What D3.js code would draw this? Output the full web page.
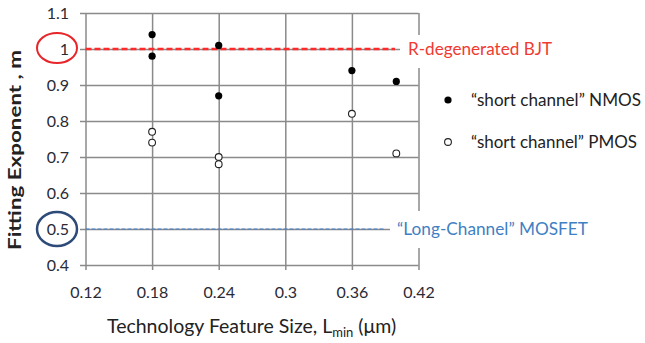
<!DOCTYPE html>
<html><head><meta charset="utf-8">
<script src="https://cdn.jsdelivr.net/npm/d3@7"></script>
<style>body{margin:0;background:#fff}svg{display:block}text{font-family:Lato,"Open Sans",sans-serif}</style>
</head><body><svg id="c" width="645" height="343"></svg>
<script>
const xTicks = [0.12, 0.18, 0.24, 0.3, 0.36, 0.42];
const xTickLabels = ["0.12", "0.18", "0.24", "0.3", "0.36", "0.42"];
const yTicks = [0.4, 0.5, 0.6, 0.7, 0.8, 0.9, 1.0, 1.1];
const yTickLabels = ["0.4", "0.5", "0.6", "0.7", "0.8", "0.9", "1", "1.1"];
const nmosX = [0.18, 0.18, 0.24, 0.24, 0.36, 0.40];
const nmosY = [1.04, 0.98, 1.01, 0.87, 0.94, 0.91];
const pmosX = [0.18, 0.18, 0.24, 0.24, 0.36, 0.40];
const pmosY = [0.77, 0.74, 0.70, 0.68, 0.82, 0.71];
const refValues = [1.0, 0.5];
const refLabels = ["R-degenerated BJT", "\u201cLong-Channel\u201d MOSFET"];
const legendLabels = ["\u201cshort channel\u201d NMOS", "\u201cshort channel\u201d PMOS"];

const svg = d3.select("#c");
const x = d3.scaleLinear().domain([0.12, 0.42]).range([85.5, 418.5]);
const y = d3.scaleLinear().domain([0.4, 1.1]).range([265, 13]);
const grid = "#8a8a8a";

// horizontal gridlines
const ya = d3.axisLeft(y).tickValues(yTicks).tickSize(-(418.5 - 80)).tickFormat((d,i)=>yTickLabels[i]);
const gy = svg.append("g").attr("transform","translate(80,0)").call(ya);
gy.select(".domain").remove();
gy.selectAll("line").attr("stroke",grid).attr("stroke-width",1.5);
gy.selectAll("text").attr("font-size",16).attr("fill","#2a2a35").attr("x",-11).attr("dy","0.36em");

// vertical gridlines
const xa = d3.axisBottom(x).tickValues(xTicks).tickSize(-(270-13)).tickFormat((d,i)=>xTickLabels[i]);
const gx = svg.append("g").attr("transform","translate(0,270)").call(xa);
gx.select(".domain").remove();
gx.selectAll("line").attr("stroke",grid).attr("stroke-width",1.5);
gx.selectAll("text").attr("font-size",16).attr("fill","#2a2a35").attr("y",22.5).attr("dy","0.36em");

// reference lines
svg.append("line").attr("x1",x(0.12)).attr("x2",395).attr("y1",y(refValues[0])).attr("y2",y(refValues[0]))
  .attr("stroke","#ff2a2a").attr("stroke-width",2.5).attr("stroke-dasharray","6,3");
svg.append("line").attr("x1",x(0.12)).attr("x2",384).attr("y1",y(refValues[1])).attr("y2",y(refValues[1]))
  .attr("stroke","#3a7dcc").attr("stroke-width",1).attr("stroke-dasharray","4,2");

// label backgrounds (cover right border)
svg.append("rect").attr("x",400).attr("y",35).attr("width",245).attr("height",33).attr("fill","#fff");
svg.append("rect").attr("x",390).attr("y",211).attr("width",255).attr("height",37).attr("fill","#fff");
svg.append("text").attr("x",408).attr("y",y(refValues[0])).attr("dy","0.36em").attr("font-size",16.5)
  .attr("fill","#f03a32").attr("textLength",144).attr("lengthAdjust","spacingAndGlyphs").text(refLabels[0]);
svg.append("text").attr("x",397).attr("y",y(refValues[1])).attr("dy","0.36em").attr("font-size",16.5)
  .attr("fill","#3f7fc4").attr("textLength",191).attr("lengthAdjust","spacingAndGlyphs").text(refLabels[1]);

// ellipses
svg.append("ellipse").attr("cx",57).attr("cy",y(1.0)-1).attr("rx",20).attr("ry",15)
  .attr("fill","none").attr("stroke","#e8262a").attr("stroke-width",2);
svg.append("ellipse").attr("cx",57).attr("cy",y(0.5)).attr("rx",20).attr("ry",17)
  .attr("fill","none").attr("stroke","#2d4a78").attr("stroke-width",2.5);

// points
svg.append("g").selectAll("circle").data(nmosX.map((d,i)=>[d,nmosY[i]])).join("circle")
  .attr("cx",d=>x(d[0])).attr("cy",d=>y(d[1])).attr("r",3.6).attr("fill","#000");
svg.append("g").selectAll("circle").data(pmosX.map((d,i)=>[d,pmosY[i]])).join("circle")
  .attr("cx",d=>x(d[0])).attr("cy",d=>y(d[1])).attr("r",3.4).attr("fill","#fff").attr("stroke","#222").attr("stroke-width",1.1);

// legend
svg.append("circle").attr("cx",448).attr("cy",100).attr("r",3.6).attr("fill","#000");
svg.append("circle").attr("cx",448).attr("cy",142).attr("r",3.4).attr("fill","#fff").attr("stroke","#222").attr("stroke-width",1.1);
svg.append("text").attr("x",471).attr("y",100).attr("dy","0.36em").attr("font-size",16.5).attr("fill","#222")
  .attr("textLength",170).attr("lengthAdjust","spacingAndGlyphs").text(legendLabels[0]);
svg.append("text").attr("x",471).attr("y",142).attr("dy","0.36em").attr("font-size",16.5).attr("fill","#222")
  .attr("textLength",166).attr("lengthAdjust","spacingAndGlyphs").text(legendLabels[1]);

// axis titles
const xt = svg.append("text").attr("x",107).attr("y",333).attr("font-size",19.5).attr("fill","#222");
xt.append("tspan").text("Technology Feature Size, L");
xt.append("tspan").attr("font-size",13).attr("dy",4).text("min");
xt.append("tspan").attr("dy",-4).text(" (\u03bcm)");
svg.append("text").attr("transform","translate(15,150) rotate(-90)").attr("text-anchor","middle").attr("dy","0.36em")
  .attr("font-size",16.5).attr("font-weight","bold").attr("fill","#222")
  .attr("textLength",200).attr("lengthAdjust","spacingAndGlyphs").text("Fitting Exponent , m");
</script></body></html>
